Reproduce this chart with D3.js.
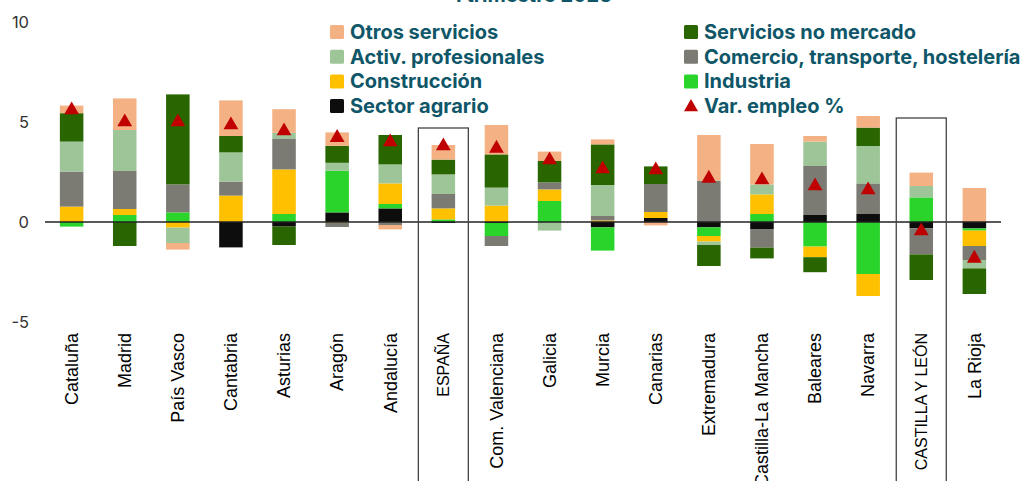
<!DOCTYPE html>
<html>
<head>
<meta charset="utf-8">
<script src="https://cdn.jsdelivr.net/npm/d3@7"></script>
<style>
  body { margin: 0; background: #fff; }
  svg { display: block; }
</style>
</head>
<body>
<svg id="chart" width="1025" height="481"></svg>
<script>
// DATA
const categories = [
  "Cataluña", "Madrid", "País Vasco", "Cantabria", "Asturias", "Aragón",
  "Andalucía", "ESPAÑA", "Com. Valenciana", "Galicia", "Murcia", "Canarias",
  "Extremadura", "Castilla-La Mancha", "Baleares", "Navarra",
  "CASTILLA Y LEÓN", "La Rioja",
];
const agrario = [0, 0, 0, -1.27, -0.23, 0.48, 0.68, -0.05, -0.05, 0, -0.27, 0.2, -0.27, -0.35, 0.35, 0.4, -0.32, -0.32];
const industria = [-0.23, 0.35, 0.48, 0, 0.4, 2.08, 0.22, 0.13, -0.65, 1.05, -1.16, 0, -0.43, 0.4, -1.23, -2.6, 1.23, -0.11];
const construccion = [0.77, 0.3, -0.28, 1.32, 2.23, -0.03, 1.03, 0.55, 0.82, 0.58, 0.08, 0.3, -0.28, 0.98, -0.53, -1.1, 0, -0.77];
const comercio = [1.75, 1.9, 1.4, 0.7, 1.55, -0.22, -0.15, 0.72, -0.5, 0.35, 0.22, 1.4, 2.07, -0.93, 2.45, 1.53, -1.3, -0.7];
const activProf = [1.5, 2.05, -0.77, 1.46, 0.28, 0.4, 0.95, 0.98, 0.9, -0.43, 1.55, 0, -0.17, 0.5, 1.22, 1.87, 0.57, -0.42];
const noMercado = [1.42, -1.2, 4.5, 0.82, -0.92, 0.85, 1.47, 0.74, 1.66, 1.07, 2.03, 0.88, -1.05, -0.54, -0.75, 0.92, -1.28, -1.28];
const otros = [0.38, 1.58, -0.33, 1.78, 1.18, 0.67, -0.22, 0.73, 1.47, 0.47, 0.25, -0.17, 2.28, 2.02, 0.28, 0.58, 0.67, 1.7];
const varEmpleo = [5.6, 5.0, 5.0, 4.85, 4.55, 4.22, 4.0, 3.8, 3.68, 3.1, 2.65, 2.6, 2.18, 2.1, 1.8, 1.6, -0.45, -1.82];
const yTicks = [10, 5, 0, -5];
const highlighted = ["ESPAÑA", "CASTILLA Y LEÓN"];
const highlightTop = [4.7, 5.2];
const title = "I trimestre 2025";

// SERIES (stack order bottom -> top)
const SERIES = [
  { key: "agrario", name: "Sector agrario", values: agrario, color: "#0d0d0d" },
  { key: "industria", name: "Industria", values: industria, color: "#2bd42b" },
  { key: "construccion", name: "Construcción", values: construccion, color: "#ffc000" },
  { key: "comercio", name: "Comercio, transporte, hostelería", values: comercio, color: "#7b7b73" },
  { key: "activProf", name: "Activ. profesionales", values: activProf, color: "#9dc598" },
  { key: "noMercado", name: "Servicios no mercado", values: noMercado, color: "#296600" },
  { key: "otros", name: "Otros servicios", values: otros, color: "#f4b183" },
];
const RED = "#c00000";
const TEAL = "#0e5668";

const table = categories.map((c, i) => {
  const row = { cat: c };
  SERIES.forEach((s) => (row[s.key] = s.values[i]));
  return row;
});

const SVG = d3.select("#chart");

// SCALES
const X_SCALE = d3
  .scaleBand()
  .domain(categories)
  .range([45, 1001])
  .paddingInner(0.557)
  .paddingOuter(0.28);
const Y_SCALE = d3.scaleLinear().domain([-5, 10]).range([322, 22]);
const BW = X_SCALE.bandwidth();

// TITLE (clipped at top in the original)
SVG.append("text")
  .attr("x", 534)
  .attr("y", 2)
  .attr("text-anchor", "middle")
  .style("font-family", "Inter, 'Open Sans', sans-serif")
  .style("font-weight", 700)
  .style("font-size", "20px")
  .style("fill", TEAL)
  .text(title);

// Y AXIS (labels only)
const Y_AXIS = d3
  .axisLeft(Y_SCALE)
  .tickValues(yTicks)
  .tickFormat((d) => String(d))
  .tickSize(0)
  .tickPadding(0);
const Y_AXIS_G = SVG.append("g").attr("transform", "translate(29,0)");
Y_AXIS(Y_AXIS_G);
Y_AXIS_G.select(".domain").remove();
Y_AXIS_G.selectAll("text")
  .style("font-family", "Inter, sans-serif")
  .style("font-size", "16.5px")
  .style("fill", "#333");

// STACKED BARS
const stacked = d3
  .stack()
  .keys(SERIES.map((s) => s.key))
  .offset(d3.stackOffsetDiverging)(table);

SVG.append("g")
  .selectAll("g")
  .data(stacked)
  .join("g")
  .attr("fill", (d, i) => SERIES[i].color)
  .selectAll("rect")
  .data((d) => d)
  .join("rect")
  .attr("x", (d) => X_SCALE(d.data.cat))
  .attr("width", BW)
  .attr("y", (d) => Y_SCALE(Math.max(d[0], d[1])))
  .attr("height", (d) => Math.abs(Y_SCALE(d[0]) - Y_SCALE(d[1])));

// ZERO LINE
SVG.append("line")
  .attr("x1", X_SCALE.range()[0])
  .attr("x2", X_SCALE.range()[1])
  .attr("y1", Y_SCALE(0))
  .attr("y2", Y_SCALE(0))
  .attr("stroke", "#222")
  .attr("stroke-width", 1.5);

// VAR. EMPLEO MARKERS
const TRI = d3.symbol().type(d3.symbolTriangle).size(95);
SVG.append("g")
  .selectAll("path")
  .data(varEmpleo)
  .join("path")
  .attr("d", TRI)
  .attr("transform", (d, i) => `translate(${X_SCALE(categories[i]) + BW / 2},${Y_SCALE(d)})`)
  .attr("fill", RED);

// HIGHLIGHT BOXES
SVG.append("g")
  .selectAll("rect")
  .data(highlighted)
  .join("rect")
  .attr("x", (d) => X_SCALE(d) + BW / 2 - 25)
  .attr("y", (d, i) => Y_SCALE(highlightTop[i]))
  .attr("width", 50)
  .attr("height", 400)
  .attr("fill", "none")
  .attr("stroke", "#444")
  .attr("stroke-width", 1.3);

// X AXIS LABELS
const X_AXIS = d3.axisBottom(X_SCALE).tickSize(0).tickPadding(0);
const X_AXIS_G = SVG.append("g").attr("transform", "translate(0,333)");
X_AXIS(X_AXIS_G);
X_AXIS_G.select(".domain").remove();
X_AXIS_G.selectAll("text")
  .attr("transform", "rotate(-90)")
  .attr("x", 0)
  .attr("y", 0)
  .attr("dy", "0.35em")
  .attr("text-anchor", "end")
  .style("font-family", "'Liberation Sans', Arial, sans-serif")
  // all-caps labels are drawn narrower in the original
  .style("font-size", (d) => (d === d.toUpperCase() ? "16px" : "18px"))
  .style("fill", "#000");

// LEGEND
const LEGEND = [
  { name: "Otros servicios", color: "#f4b183", col: 0, row: 0 },
  { name: "Activ. profesionales", color: "#9dc598", col: 0, row: 1 },
  { name: "Construcción", color: "#ffc000", col: 0, row: 2 },
  { name: "Sector agrario", color: "#0d0d0d", col: 0, row: 3 },
  { name: "Servicios no mercado", color: "#296600", col: 1, row: 0 },
  { name: "Comercio, transporte, hostelería", color: "#7b7b73", col: 1, row: 1 },
  { name: "Industria", color: "#2bd42b", col: 1, row: 2 },
  { name: "Var. empleo %", color: RED, col: 1, row: 3, marker: true },
];
const LEG_X = [330, 684];
const LEG_G = SVG.append("g")
  .selectAll("g")
  .data(LEGEND)
  .join("g")
  .attr("transform", (d) => `translate(${LEG_X[d.col]},${32 + d.row * 24.7})`);
LEG_G.filter((d) => !d.marker)
  .append("rect")
  .attr("x", 0)
  .attr("y", -7)
  .attr("width", 14)
  .attr("height", 14)
  .attr("rx", 1.5)
  .attr("fill", (d) => d.color);
LEG_G.filter((d) => d.marker)
  .append("path")
  .attr("d", d3.symbol().type(d3.symbolTriangle).size(85))
  .attr("transform", "translate(7,1)")
  .attr("fill", (d) => d.color);
LEG_G.append("text")
  .attr("x", 20)
  .attr("dy", "0.35em")
  .style("font-family", "Inter, 'Open Sans', sans-serif")
  .style("font-weight", 700)
  .style("font-size", "20px")
  .style("fill", TEAL)
  .text((d) => d.name);
</script>
</body>
</html>
